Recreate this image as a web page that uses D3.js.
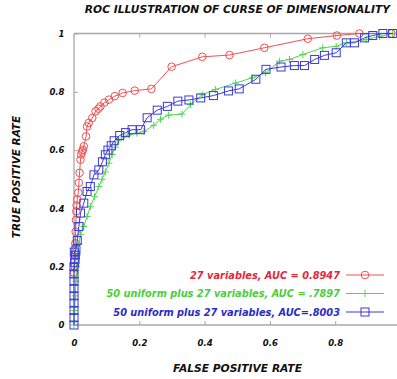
<!DOCTYPE html>
<html><head><meta charset="utf-8">
<script src="https://cdn.jsdelivr.net/npm/d3@7"></script>
<style>
html,body{margin:0;padding:0;background:#fff;overflow:hidden}
text{font-family:"DejaVu Sans",sans-serif;font-weight:bold;font-style:oblique}
</style></head><body>
<svg id="c" width="397" height="379"></svg>
<script>
const title = "ROC ILLUSTRATION OF CURSE OF DIMENSIONALITY";
const xLabel = "FALSE POSITIVE RATE";
const yLabel = "TRUE POSITIVE RATE";
const xTicks = [0, 0.2, 0.4, 0.6, 0.8];
const yTicks = [0, 0.2, 0.4, 0.6, 0.8, 1];
const seriesNames = ["27 variables, AUC = 0.8947", "50 uniform plus 27 variables, AUC = .7897", "50 uniform plus 27 variables, AUC=.8003"];

const redX = [0, 0.002, 0.003, 0.004, 0.005, 0.006, 0.007, 0.008, 0.01, 0.013, 0.015, 0.017, 0.02, 0.022, 0.025, 0.027, 0.03, 0.037, 0.04, 0.045, 0.056, 0.066, 0.075, 0.081, 0.093, 0.107, 0.125, 0.149, 0.186, 0.237, 0.299, 0.393, 0.476, 0.583, 0.716, 0.805, 0.874, 0.972];
const redY = [0.18, 0.2, 0.24, 0.28, 0.32, 0.36, 0.39, 0.41, 0.43, 0.454, 0.488, 0.522, 0.567, 0.585, 0.595, 0.601, 0.613, 0.647, 0.681, 0.693, 0.71, 0.733, 0.742, 0.75, 0.763, 0.773, 0.785, 0.796, 0.804, 0.81, 0.886, 0.92, 0.926, 0.951, 0.982, 0.993, 1.0, 1.0];

const greenX = [0, 0.002, 0.004, 0.006, 0.008, 0.01, 0.015, 0.02, 0.03, 0.04, 0.05, 0.063, 0.076, 0.086, 0.096, 0.107, 0.117, 0.127, 0.137, 0.152, 0.168, 0.193, 0.214, 0.244, 0.265, 0.29, 0.331, 0.357, 0.393, 0.433, 0.495, 0.546, 0.587, 0.629, 0.66, 0.701, 0.762, 0.803, 0.834, 0.895, 0.936, 0.976];
const greenY = [0, 0.05, 0.1, 0.15, 0.2, 0.24, 0.28, 0.31, 0.338, 0.372, 0.406, 0.44, 0.475, 0.5, 0.525, 0.555, 0.585, 0.61, 0.632, 0.645, 0.652, 0.658, 0.664, 0.685, 0.706, 0.72, 0.724, 0.756, 0.79, 0.808, 0.83, 0.848, 0.865, 0.905, 0.911, 0.928, 0.951, 0.956, 0.968, 0.979, 0.99, 1.0];

const blueX = [0, 0, 0, 0, 0, 0, 0, 0, 0, 0.002, 0.003, 0.004, 0.001, 0.006, 0.01, 0.015, 0.02, 0.03, 0.04, 0.05, 0.061, 0.076, 0.087, 0.096, 0.104, 0.114, 0.123, 0.14, 0.158, 0.178, 0.204, 0.224, 0.255, 0.286, 0.318, 0.352, 0.388, 0.427, 0.473, 0.506, 0.557, 0.588, 0.634, 0.675, 0.706, 0.737, 0.767, 0.803, 0.834, 0.859, 0.89, 0.915, 0.946, 0.976];
const blueY = [0, 0.025, 0.05, 0.075, 0.1, 0.125, 0.15, 0.175, 0.2, 0.215, 0.225, 0.24, 0.25, 0.258, 0.29, 0.338, 0.384, 0.418, 0.458, 0.475, 0.515, 0.532, 0.56, 0.584, 0.6, 0.615, 0.632, 0.65, 0.66, 0.67, 0.67, 0.711, 0.737, 0.75, 0.768, 0.772, 0.779, 0.787, 0.803, 0.81, 0.843, 0.877, 0.885, 0.89, 0.89, 0.911, 0.925, 0.934, 0.968, 0.968, 0.985, 0.993, 1.0, 1.0];

const colors = ["#f25050", "#4ed84e", "#3a3ad6"];
const textColors = ["#e0283a", "#48d038", "#2a2ac8"];
const frameColor = "#a8a8a8";

const svg = d3.select("#c");
const x = d3.scaleLinear().domain([0, 1]).range([74, 400.5]);
const y = d3.scaleLinear().domain([0, 1]).range([325, 33.5]);

// frame
const frame = svg.append("g");
frame.append("line").attr("x1", x(0)).attr("x2", x(1)).attr("y1", y(1)).attr("y2", y(1));
frame.append("line").attr("x1", x(0)).attr("x2", x(1)).attr("y1", y(0)).attr("y2", y(0));
frame.append("line").attr("x1", x(0)).attr("x2", x(0)).attr("y1", y(0)).attr("y2", y(1));
frame.selectAll("line").attr("stroke", frameColor).attr("stroke-width", 1.3);

const fmt = d => d === 0 ? "0" : (d === 1 ? "1" : d3.format(".1f")(d));

const gx = svg.append("g").attr("transform", `translate(0,${y(0)})`)
  .call(d3.axisBottom(x).tickValues(xTicks).tickFormat(fmt).tickSize(-4).tickPadding(15));
const gxTop = svg.append("g").attr("transform", `translate(0,${y(1)})`)
  .call(d3.axisTop(x).tickValues(xTicks.filter(d => d > 0)).tickFormat("").tickSize(-4));
const gy = svg.append("g").attr("transform", `translate(${x(0)},0)`)
  .call(d3.axisLeft(y).tickValues(yTicks).tickFormat(fmt).tickSize(-4).tickPadding(9.5));
[gx, gxTop, gy].forEach(g => {
  g.select(".domain").remove();
  g.selectAll(".tick line").attr("stroke", frameColor);
  g.selectAll("text").attr("fill", "#111").style("font-size", "8.5px");
});

// titles
svg.append("text").attr("x", 237.5).attr("y", 13).attr("text-anchor", "middle")
  .style("font-size", "10.7px").attr("fill", "#111").text(title);
svg.append("text").attr("x", 237.5).attr("y", 372).attr("text-anchor", "middle")
  .style("font-size", "10.7px").attr("fill", "#111").text(xLabel);
svg.append("text").attr("transform", "translate(20,177) rotate(-90)").attr("text-anchor", "middle")
  .style("font-size", "10.5px").attr("fill", "#111").text(yLabel);

const series = [
  d3.zip(redX, redY),
  d3.zip(greenX, greenY),
  d3.zip(blueX, blueY)
];
const line = d3.line().x(d => x(d[0])).y(d => y(d[1]));

function marker(g, i, cx, cy) {
  if (i === 0) {
    g.append("circle").attr("cx", cx).attr("cy", cy).attr("r", 3.8)
      .attr("fill", "none").attr("stroke", colors[0]).attr("stroke-width", 1);
  } else if (i === 1) {
    g.append("path").attr("d", `M${cx - 3.5},${cy}H${cx + 3.5}M${cx},${cy - 3.5}V${cy + 3.5}`)
      .attr("stroke", colors[1]).attr("stroke-width", 1);
  } else {
    g.append("rect").attr("x", cx - 4).attr("y", cy - 4).attr("width", 8).attr("height", 8)
      .attr("fill", "none").attr("stroke", colors[2]).attr("stroke-width", 1);
  }
}

series.forEach((s, i) => {
  const g = svg.append("g");
  g.append("path").datum(s).attr("d", line).attr("fill", "none")
    .attr("stroke", colors[i]).attr("stroke-width", 1);
  s.forEach(p => marker(g, i, x(p[0]), y(p[1])));
});

// legend
const legY = [275, 293.5, 312];
seriesNames.forEach((name, i) => {
  const g = svg.append("g");
  g.append("text").attr("x", 340).attr("y", legY[i] + 3.5).attr("text-anchor", "end")
    .style("font-size", "9.8px").attr("fill", textColors[i]).text(name);
  g.append("line").attr("x1", 346).attr("x2", 384).attr("y1", legY[i]).attr("y2", legY[i])
    .attr("stroke", colors[i]).attr("stroke-width", 1);
  marker(g, i, 365, legY[i]);
});
</script>
</body></html>
